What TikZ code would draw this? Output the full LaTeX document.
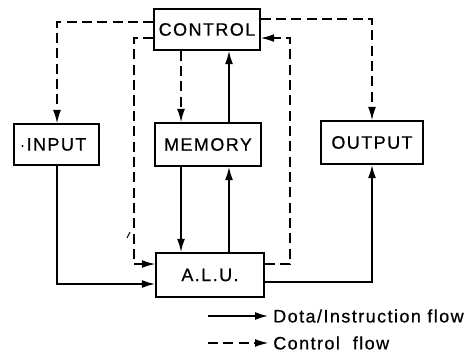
\documentclass[tikz,border=0pt]{standalone}
\usepackage{fontspec}
\setmainfont{Liberation Sans}[LetterSpace=8, FakeBold=0.6]
\usetikzlibrary{arrows.meta}
\begin{document}
\begin{tikzpicture}[x=0.75pt,y=-0.75pt,
  box/.style={draw, line width=1.2pt, inner sep=0pt, font=\fontsize{13.5}{15}\selectfont},
  lbl/.style={inner sep=0pt, anchor=west, font=\fontsize{13.5}{15}\selectfont},
  tip/.style={-{Latex[length=10pt,width=6pt]}},
  data/.style={line width=1.4pt, tip},
  ctl/.style={line width=1.1pt, dash pattern=on 7.5pt off 4pt, tip}]
\useasboundingbox (0,0) rectangle (473,356);

% units
\node[box, minimum width=79.5pt, minimum height=30.75pt] (ctrl) at (207,29.5) {CONTROL};
\node[box, minimum width=63.75pt, minimum height=30.75pt] (inp) at (56.5,144.5) {INPUT};
\node[box, minimum width=79.5pt, minimum height=32.25pt] (mem) at (208,144.5) {MEMORY};
\node[box, minimum width=76.5pt, minimum height=32.25pt] (outp) at (372,142.5) {OUTPUT};
\node[box, minimum width=81pt, minimum height=33pt] (alu) at (210,275) {A.L.U.};

% routing points
\coordinate (lx) at (134,264);
\coordinate (rx) at (290,264);
\coordinate (inx) at (57,284);
\coordinate (outx) at (372,282);
\coordinate (m1) at (181,0);
\coordinate (m2) at (229,0);
\coordinate (ix) at (57,0);

% control flow
\draw[ctl] ([yshift=5.6pt]ctrl.west) -| (inp.north -| ix);
\draw[ctl] ([yshift=7.9pt]ctrl.east) -| (outp.north);
\draw[ctl] ([yshift=-6.4pt]ctrl.west) -| (lx) -- (alu.west |- lx);
\draw[ctl] (alu.east |- rx) -- (rx) |- ([yshift=-6.4pt]ctrl.east);
\draw[ctl] (ctrl.south -| m1) -- (mem.north -| m1);

% data / instruction flow
\draw[data] (mem.south -| m1) -- (alu.north -| m1);
\draw[data] (alu.north -| m2) -- (mem.south -| m2);
\draw[data] (mem.north -| m2) -- (ctrl.south -| m2);
\draw[data] (inp.south -| inx) -- (inx) -- (alu.west |- inx);
\draw[data] (alu.east |- outx) -- (outx) -- (outp.south -| outx);

% specks
\fill (22.5,146) circle (0.8pt);
\draw[line width=0.8pt] (127,238) -- (130,232);

% legend
\node[lbl] (t1) at (273,316) {Dota/Instruction flow};
\node[lbl] (t2) at (273,343) {Control\ \ flow};
\coordinate (l1) at (208,316);
\coordinate (l2) at (208,343);
\draw[data] (l1) -- ([xshift=-3.5pt]t1.west);
\draw[ctl] (l2) -- ([xshift=-3.5pt]t2.west);
\end{tikzpicture}
\end{document}
